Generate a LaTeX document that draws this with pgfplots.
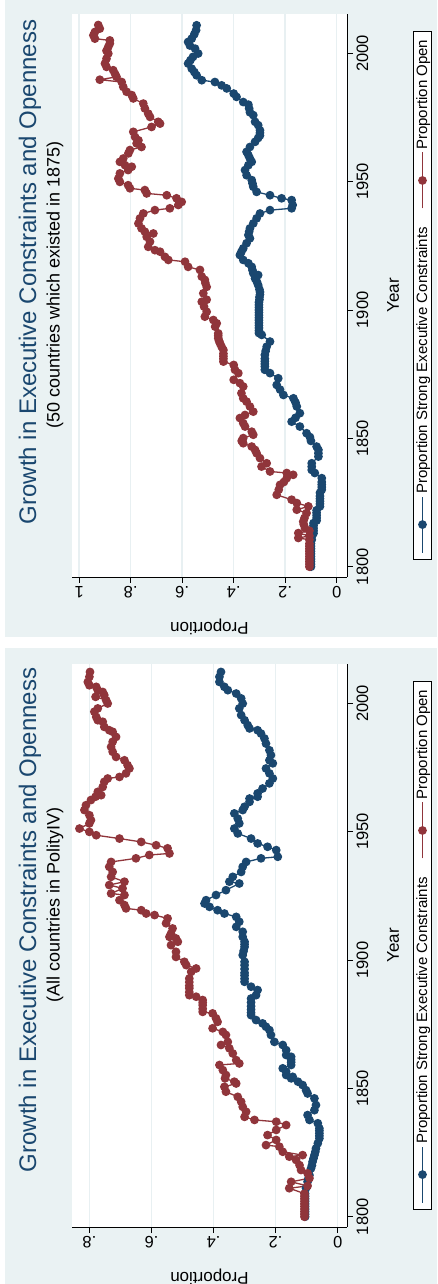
\documentclass[border=0pt]{standalone}
\usepackage{pgfplots}
\pgfplotsset{compat=1.18}
\usepackage{pgfplotstable}
\usepackage{fontspec}
\setmainfont{Liberation Sans}
\definecolor{bgc}{RGB}{234,242,243}
\definecolor{gridc}{RGB}{232,240,242}
\definecolor{sblue}{RGB}{26,71,111}
\definecolor{sred}{RGB}{144,53,59}
\definecolor{titlec}{RGB}{26,71,111}

% ---- 50 countries which existed in 1875 ----
\pgfplotstableread{
year val
1800 .106
1801 .106
1802 .106
1803 .106
1804 .106
1805 .106
1806 .106
1807 .106
1808 .106
1809 .106
1810.5 .106
1811.2 .149
1812 .106
1813.1 .149
1814 .106
1815 .123
1816.5 .128
1817.6 .13
1819 .125
1820.9 .117
1822.2 .155
1823.5 .11
1824.8 .155
1826.1 .175
1828 .233
1830 .225
1831.9 .22
1833 .205
1834.5 .194
1835.8 .169
1836.5 .194
1837.1 .259
1839 .292
1840.3 .272
1842.3 .298
1844.2 .311
1845.5 .317
1846.8 .33
1848.1 .363
1849 .369
1850.1 .363
1851.4 .324
1852.6 .33
1854.6 .356
1855.9 .363
1857.9 .376
1859.1 .356
1860.4 .324
1862.4 .337
1864.3 .35
1865.6 .363
1867.6 .37
1870.2 .363
1871.5 .376
1872.8 .40
1875.4 .382
1876.7 .395
1878.6 .40
1879.9 .44
1881 .44
1882 .44
1883 .44
1884.4 .44
1885.7 .447
1887 .453
1888 .457
1889 .46
1890 .46
1890.9 .46
1893.5 .472
1894.8 .466
1896.1 .479
1897.4 .512
1899.3 .505
1901.3 .515
1903.2 .524
1904 .505
1906.5 .518
1909 .505
1910.5 .51
1911.7 .512
1913 .524
1915.6 .531
1916.8 .577
1918.8 .589
1919.5 .654
1920.7 .667
1922.7 .686
1923.3 .706
1924.6 .732
1926.6 .725
1928.5 .738
1929.8 .712
1930.5 .745
1931.8 .758
1933.7 .77
1935.7 .764
1937.6 .751
1938.9 .706
1939.6 .648
1940.9 .615
1942.1 .602
1943.5 .622
1944.7 .66
1945.4 .738
1946.7 .745
1947.4 .803
1948.6 .81
1949.9 .842
1951.2 .848
1953.2 .842
1954.5 .81
1955.8 .796
1956.4 .822
1957.7 .842
1959 .829
1961 .809
1962.3 .803
1963.5 .758
1964.9 .777
1966.1 .77
1967.4 .783
1969.4 .79
1971.3 .719
1972.6 .686
1973.3 .693
1975.2 .725
1976.5 .732
1978.5 .745
1980.4 .751
1982.4 .79
1983.7 .796
1985 .816
1986.9 .829
1988.8 .835
1989.7 .92
1990.8 .855
1992 .861
1993.4 .868
1994.7 .894
1996 .90
1997.9 .894
1999.9 .887
2001 .894
2002.5 .887
2003.8 .881
2005 .881
2005.7 .939
2007 .945
2008.3 .939
2009.6 .92
2011 .926
}\openfifty

\pgfplotstableread{
year val
1800 .10
1801 .10
1802 .10
1803 .10
1804 .10
1805 .10
1806 .10
1807 .10
1808 .10
1809 .10
1810.5 .097
1811.7 .097
1813 .09
1814 .09
1815 .09
1816 .09
1817 .09
1818 .078
1819 .078
1820 .078
1821 .078
1822 .078
1823.5 .065
1824.5 .065
1825.5 .065
1826.5 .065
1827.5 .065
1828.8 .065
1830 .058
1831 .058
1832 .058
1833 .058
1834.5 .058
1836.5 .085
1837.7 .097
1839 .097
1840.3 .097
1842.9 .071
1844.2 .071
1845.5 .071
1846.8 .078
1849 .10
1850.5 .104
1852 .117
1854.6 .143
1856.5 .175
1858 .16
1859.8 .143
1862.4 .155
1864 .16
1865.6 .168
1866.9 .207
1869 .22
1870.8 .233
1873.4 .227
1875.4 .259
1876.7 .279
1878 .279
1879 .279
1880 .279
1881 .279
1882.5 .279
1884 .276
1885.7 .272
1887.7 .259
1890.3 .291
1891 .302
1892 .302
1893 .302
1894 .302
1895 .302
1896 .302
1897 .302
1898 .302
1899 .302
1900 .302
1901 .302
1902 .302
1903 .302
1904 .30
1905 .30
1906 .298
1907 .298
1908 .30
1909.7 .305
1911 .31
1912.3 .317
1913.6 .305
1914.3 .324
1915.5 .327
1916.8 .33
1918.2 .343
1919.5 .363
1921.4 .376
1922.7 .37
1924 .363
1926 .35
1927.9 .337
1929.2 .343
1930.5 .34
1931.8 .337
1933.7 .324
1935.7 .311
1937.6 .298
1938.9 .259
1939.6 .175
1940.9 .171
1942.8 .175
1943.5 .214
1944.7 .259
1946 .311
1948 .324
1949.3 .327
1950.6 .33
1952.5 .35
1954.5 .356
1956.4 .343
1957.7 .33
1959 .337
1960.3 .343
1961.6 .35
1963.5 .337
1965.5 .317
1967 .305
1968 .298
1969 .298
1970 .298
1972 .305
1973.3 .317
1975.9 .324
1977 .337
1978.5 .34
1980 .343
1981 .363
1983 .389
1984.3 .40
1986.3 .427
1987.5 .447
1988.8 .473
1989.5 .524
1991.4 .544
1992.7 .553
1994 .563
1996 .577
1997.3 .568
1998.6 .558
1999.9 .538
2001.8 .55
2003 .57
2004.4 .577
2005.7 .563
2007.4 .553
2009 .546
2010.9 .544
}\strongfifty

% ---- All countries in PolityIV ----
\pgfplotstableread{
year val
1800 .107
1801 .107
1802 .107
1803 .107
1804 .107
1805 .107
1806 .107
1807 .107
1808 .107
1809 .107
1811.1 .156
1812 .097
1813.6 .15
1815 .091
1816.9 .097
1818.2 .118
1820.1 .123
1822.1 .134
1823.4 .156
1824 .113
1825.3 .177
1827.3 .188
1827.9 .231
1829.9 .198
1831.8 .226
1833.8 .198
1835.7 .166
1837 .198
1837.7 .268
1838.9 .30
1840.9 .295
1842.8 .306
1844.8 .311
1846.7 .322
1848.7 .36
1850.6 .365
1851.9 .327
1852.6 .333
1853.9 .363
1855.2 .36
1857.1 .37
1859.1 .381
1859.7 .317
1861 .327
1863.6 .338
1865.6 .349
1866.9 .376
1868.1 .354
1870.8 .36
1872 .37
1873.4 .403
1875.9 .387
1877.3 .392
1879.2 .403
1879.8 .435
1881 .435
1882.4 .435
1883.4 .435
1884.4 .435
1885.7 .456
1886.3 .478
1887.5 .478
1889 .478
1890 .478
1891.4 .478
1892.8 .478
1895.4 .472
1896.7 .456
1898 .488
1899.3 .494
1901.2 .521
1903.2 .521
1905.8 .537
1907.1 .515
1908.4 .521
1909 .542
1910.3 .537
1912.3 .532
1914.3 .553
1916.2 .548
1917.5 .59
1918.1 .617
1919.4 .633
1920.1 .682
1921.4 .687
1923.3 .703
1925.3 .687
1925.9 .73
1927.9 .693
1929.2 .736
1930.5 .687
1932.4 .73
1934.3 .725
1936.3 .736
1938.2 .73
1939.6 .65
1940.9 .607
1941.5 .542
1943.5 .548
1944.7 .585
1946 .633
1947.3 .703
1948.6 .778
1949.9 .80
1951.2 .832
1953.2 .80
1954.5 .795
1956.4 .80
1958.4 .816
1960.3 .811
1962.3 .795
1963.6 .78
1964.2 .762
1965.5 .773
1967.4 .757
1969.4 .752
1970.7 .741
1971.3 .703
1972.7 .682
1974.6 .671
1975.9 .677
1977.8 .687
1979.1 .714
1981.1 .725
1983 .73
1985 .725
1986.9 .714
1988.9 .725
1989.5 .736
1990.8 .752
1992.8 .757
1993.4 .773
1994.7 .778
1996.7 .784
1998 .773
1999.9 .741
2001.2 .746
2002.5 .78
2003.2 .752
2004.4 .757
2005.1 .773
2006.4 .778
2007 .80
2008.3 .805
2010.3 .80
2012.2 .798
}\openall

\pgfplotstableread{
year val
1800 .105
1801 .105
1802 .105
1803 .105
1804 .105
1805 .105
1806 .105
1807 .105
1808 .105
1809 .105
1811.1 .102
1813.6 .097
1815 .094
1816.2 .091
1818.8 .086
1820 .083
1821.4 .081
1822.7 .078
1824 .075
1825.3 .072
1826.6 .07
1828.6 .064
1830.5 .059
1831.5 .059
1832.5 .059
1833.5 .059
1834.4 .059
1836.4 .064
1837.7 .091
1839.6 .097
1841.5 .075
1843.5 .07
1846.1 .075
1848 .097
1849.3 .102
1851.3 .113
1852.6 .128
1853.9 .15
1854.5 .145
1855.2 .166
1856.5 .166
1857.8 .177
1859.1 .15
1860.2 .15
1861.2 .15
1862.3 .15
1863 .166
1864.9 .166
1866.9 .177
1868.1 .204
1870.8 .215
1872.7 .22
1874 .231
1875.3 .242
1876.6 .263
1878.5 .279
1879.5 .279
1880.7 .279
1882 .279
1883.5 .279
1885 .279
1886.3 .263
1888.3 .258
1889.6 .279
1891.5 .30
1892.7 .30
1894 .30
1895 .30
1896.5 .30
1898 .30
1899.3 .30
1901.9 .306
1903.5 .303
1905.1 .30
1906.1 .30
1907.1 .30
1909 .306
1911 .306
1912.9 .327
1914.9 .317
1916.8 .327
1918.1 .365
1919.4 .387
1920.7 .413
1922 .429
1923.3 .424
1925.3 .392
1927.2 .36
1929.8 .317
1930.5 .349
1932.4 .338
1934.3 .311
1936.3 .306
1938.2 .295
1939.6 .247
1940.2 .193
1942.8 .198
1944.1 .226
1945.4 .258
1947.3 .279
1949.3 .322
1951.2 .333
1953.2 .317
1955.1 .322
1957.1 .333
1958.4 .306
1959.7 .30
1961.6 .284
1962.9 .284
1963.6 .258
1964.9 .258
1966.8 .242
1968.8 .22
1970.7 .209
1972.7 .22
1974.6 .231
1976.6 .209
1977.8 .22
1979.8 .215
1981.7 .22
1984.3 .231
1986.3 .236
1988.2 .247
1989.5 .258
1990.2 .284
1991.5 .29
1993.4 .30
1995.4 .311
1998 .317
1999.9 .306
2001.9 .311
2003.8 .327
2005.1 .354
2006.4 .365
2008.3 .381
2010.3 .381
2012.2 .376
}\strongall

\pgfplotsset{
  stata/.style={
    scale only axis, width=563pt, height=275pt,
    anchor=south west,
    xmin=1796, xmax=2015.3,
    xtick={1800,1850,1900,1950,2000},
    xticklabels={1800,1850,1900,1950,2000},
    axis x line*=bottom, axis y line*=left,
    axis line style={black, line width=0.8pt, -},
    tick align=outside, major tick length=6pt,
    tick style={black, line width=0.8pt},
    ymajorgrids, grid style={gridc, line width=1.5pt},
    axis background/.style={fill=white},
    tick label style={font=\fontsize{16.5}{18}\selectfont},
    yticklabel style={rotate=90, anchor=south},
    xlabel={Year},
    xlabel style={font=\fontsize{17}{19}\selectfont, at={(axis description cs:0.5,-0.1673)}, anchor=center},
    ylabel={Proportion},
    ylabel style={font=\fontsize{17}{19}\selectfont, at={(axis description cs:-0.0888,0.5)}, anchor=center},
    legend columns=2,
    legend style={at={(axis description cs:0.5,-0.2745)}, anchor=center, draw=black, line width=0.6pt, fill=white,
      font=\fontsize{15}{17}\selectfont, inner xsep=6pt, inner ysep=1pt,
      /tikz/every even column/.append style={column sep=16pt}},
    legend image code/.code={\draw[mark repeat=2,mark phase=2,#1] plot coordinates {(0pt,0pt) (28pt,0pt) (56pt,0pt)};},
    every axis plot/.append style={line width=1.3pt, mark=*, mark size=3.7pt},
  }
}

\begin{document}
\begin{tikzpicture}[x=1pt,y=1pt]
\begin{scope}[rotate=90, transform shape]
\fill[white] (0,0) rectangle (1284,437);
\fill[bgc] (0,0) rectangle (636,432);
\fill[bgc] (647,0) rectangle (1284,432);

\begin{axis}[stata, at={(57pt,90pt)}, ymin=-0.03, ymax=0.856,
  ytick={0,0.2,0.4,0.6,0.8}, yticklabels={0,.2,.4,.6,.8}]
\addplot[sblue, mark options={fill=sblue}] table {\strongall};
\addlegendentry{Proportion Strong Executive Constraints}
\addplot[sred, mark options={fill=sred}] table {\openall};
\addlegendentry{Proportion Open}
\end{axis}

\begin{axis}[stata, at={(707pt,90pt)}, ymin=-0.04, ymax=1.028,
  ytick={0,0.2,0.4,0.6,0.8,1}, yticklabels={0,.2,.4,.6,.8,1}]
\addplot[sblue, mark options={fill=sblue}] table {\strongfifty};
\addlegendentry{Proportion Strong Executive Constraints}
\addplot[sred, mark options={fill=sred}] table {\openfifty};
\addlegendentry{Proportion Open}
\end{axis}

\node[text=titlec, font=\fontsize{24}{26}\selectfont] at (364,407) {Growth in Executive Constraints and Openness};
\node[font=\fontsize{18}{20}\selectfont] at (379,382) {(All countries in PolityIV)};
\node[text=titlec, font=\fontsize{24}{26}\selectfont] at (1012,407) {Growth in Executive Constraints and Openness};
\node[font=\fontsize{18}{20}\selectfont] at (999,382) {(50 countries which existed in 1875)};

\pgfresetboundingbox
\path[use as bounding box] (0,0) rectangle (1284,437);
\end{scope}
\end{tikzpicture}
\end{document}
